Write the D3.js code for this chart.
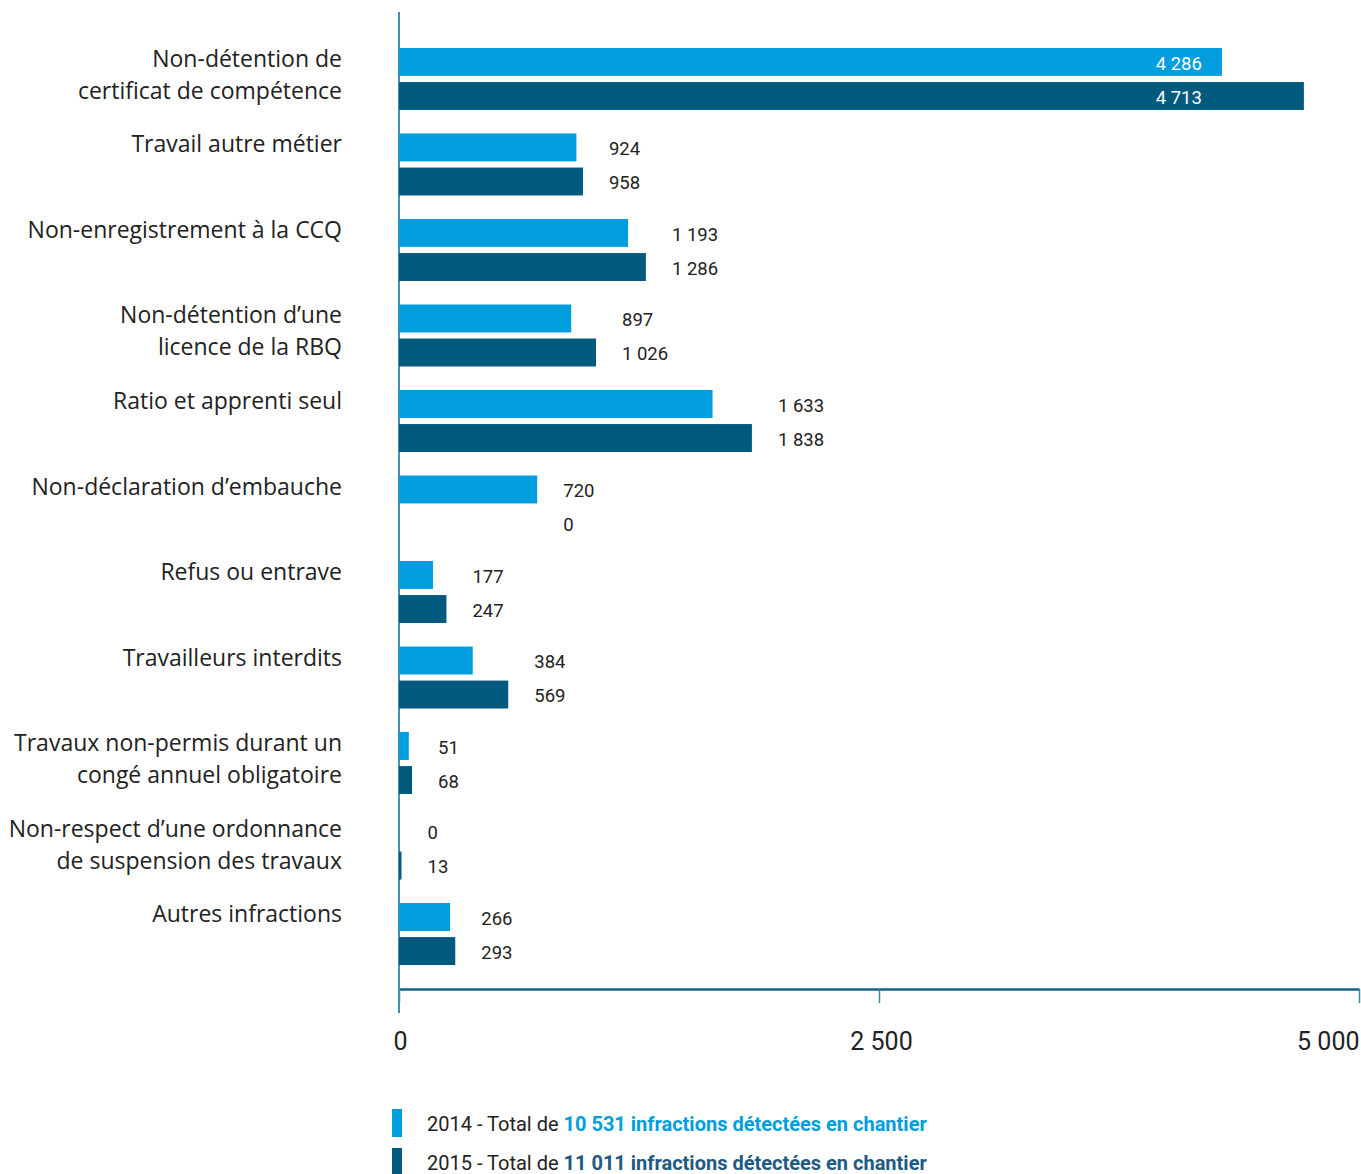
<!DOCTYPE html>
<html>
<head>
<meta charset="utf-8">
<script src="https://cdn.jsdelivr.net/npm/d3@7"></script>
<style>
  body { margin: 0; background: #fff; }
  text { font-family: Roboto, "Noto Sans", sans-serif; }
</style>
</head>
<body>
<div id="container"></div>
<script>
/* DATA */
const categories = [
  ["Non-détention de", "certificat de compétence"],
  ["Travail autre métier"],
  ["Non-enregistrement à la CCQ"],
  ["Non-détention d’une", "licence de la RBQ"],
  ["Ratio et apprenti seul"],
  ["Non-déclaration d’embauche"],
  ["Refus ou entrave"],
  ["Travailleurs interdits"],
  ["Travaux non-permis durant un", "congé annuel obligatoire"],
  ["Non-respect d’une ordonnance", "de suspension des travaux"],
  ["Autres infractions"]
]
const years = ["2014", "2015"]
const values2014 = [4286, 924, 1193, 897, 1633, 720, 177, 384, 51, 0, 266]
const values2015 = [4713, 958, 1286, 1026, 1838, 0, 247, 569, 68, 13, 293]
const tickValues = [0, 2500, 5000]
const legendTotals = ["10 531", "11 011"]

/* CONSTANTS */
const width = 1361
const height = 1174
const colors = { "2014": "#009ddf", "2015": "#005a7e" }
const fmt = v => d3.format(",")(v).replace(/,/g, " ")

const data = categories.map((c, i) => ({
  key: i,
  label: c,
  vals: [{ year: "2014", v: values2014[i] }, { year: "2015", v: values2015[i] }]
}))

const svg = d3.select("#container")
  .append("svg")
    .attr("width", width)
    .attr("height", height)

// SCALES
const xScale = d3.scaleLinear()
  .domain([0, 5000])
  .range([399, 1359])

const yScale = d3.scaleBand()
  .domain(data.map(d => d.key))
  .range([36, 977])
  .paddingInner(0.275)
  .paddingOuter(0.14)

const ySub = d3.scaleBand()
  .domain(years)
  .range([0, yScale.bandwidth()])
  .paddingInner(0.18)

// AXES
const xAxis = svg.append("g")
  .attr("transform", "translate(0,989)")
  .call(d3.axisBottom(xScale).tickValues(tickValues).tickSize(14).tickSizeOuter(0).tickFormat(fmt))
xAxis.select(".domain").attr("stroke", "#1b5f82").attr("stroke-width", 2.5)
xAxis.selectAll(".tick line").attr("stroke", "#3d86a8").attr("stroke-width", 1.5)
xAxis.selectAll(".tick text")
  .attr("y", 61)
  .attr("dy", 0)
  .attr("fill", "#222")
  .style("font-size", "25px")
  .style("font-family", "Roboto, sans-serif")
  .attr("text-anchor", d => d === 5000 ? "end" : "middle")
  .attr("x", d => d === 0 ? 1 : d === 5000 ? 0 : 2)

svg.append("line")
  .attr("x1", xScale(0)).attr("x2", xScale(0))
  .attr("y1", 12).attr("y2", 1013)
  .attr("stroke", "#4a8eae")
  .attr("stroke-width", 2)

// BARS
const groups = svg.selectAll("g.group")
  .data(data)
  .join("g")
    .attr("class", "group")
    .attr("transform", d => `translate(0,${yScale(d.key)})`)

groups.selectAll("rect")
  .data(d => d.vals)
  .join("rect")
    .attr("x", xScale(0))
    .attr("y", d => ySub(d.year))
    .attr("width", d => xScale(d.v) - xScale(0))
    .attr("height", ySub.bandwidth())
    .attr("fill", d => colors[d.year])

// VALUE LABELS
groups.each(function (g) {
  const maxEnd = xScale(d3.max(g.vals, d => d.v))
  const minEnd = xScale(d3.min(g.vals, d => d.v))
  const inside = maxEnd > 1000
  d3.select(this).selectAll("text.val")
    .data(g.vals)
    .join("text")
      .attr("class", "val")
      .attr("x", inside ? minEnd - 20 : maxEnd + 26)
      .attr("y", d => ySub(d.year) + ySub.bandwidth() / 2 + 1)
      .attr("dy", "0.36em")
      .attr("text-anchor", inside ? "end" : "start")
      .attr("fill", inside ? "#fff" : "#222")
      .style("font-size", "18.5px")
      .text(d => fmt(d.v))
})

// CATEGORY LABELS
groups.append("text")
  .attr("text-anchor", "end")
  .attr("fill", "#222")
  .style("font-size", "23px")
  .style("font-family", "'Open Sans', sans-serif")
  .selectAll("tspan")
  .data(d => d.label)
  .join("tspan")
    .attr("x", 342)
    .attr("y", (d, i) => 19 + i * 32)
    .text(d => d)

// LEGEND
const legend = svg.append("g")
years.forEach((y, i) => {
  const yy = 1109 + i * 39
  legend.append("rect")
    .attr("x", 392).attr("y", yy)
    .attr("width", 10).attr("height", 28)
    .attr("fill", colors[y])
  const t = legend.append("text")
    .attr("x", 427).attr("y", yy + 22)
    .style("font-size", "20px")
  t.append("tspan").attr("fill", "#222").text(`${y} - Total de `)
  t.append("tspan").attr("fill", i === 0 ? colors[y] : "#1e5a82")
    .style("font-weight", "bold")
    .text(`${legendTotals[i]} infractions détectées en chantier`)
})
</script>
</body>
</html>
